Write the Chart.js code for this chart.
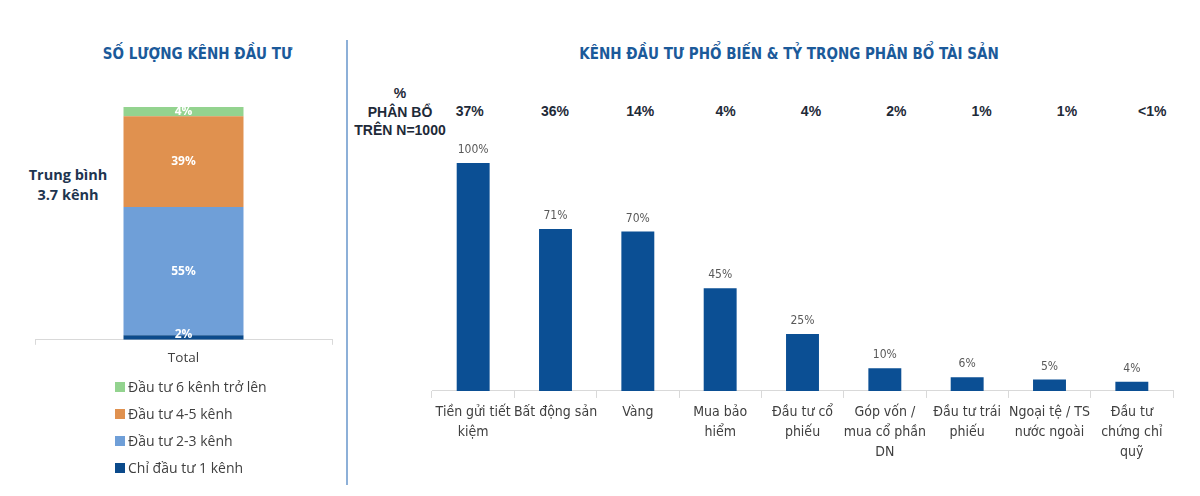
<!DOCTYPE html>
<html lang="vi">
<head>
  <meta charset="UTF-8" />
  <title>Kênh đầu tư</title>
  <script src="https://cdn.jsdelivr.net/npm/chart.js"></script>
  <style>
    body { margin: 0; width: 1200px; height: 496px; background: #fff; position: relative; overflow: hidden;
           font-family: "DejaVu Sans Condensed", "Liberation Sans", sans-serif; }
    .title { position: absolute; top: 45px; font-weight: bold; font-size: 15px; color: #1B5A9A; text-align: center; white-space: nowrap; }
    #leftWrap { position: absolute; left: 0; top: 80px; width: 345px; height: 294px; }
    #rightWrap { position: absolute; left: 350px; top: 80px; width: 850px; height: 400px; }
    .divider { position: absolute; left: 346px; top: 40px; width: 2px; height: 445px; background: #8DB0D8; }
    .avg { position: absolute; left: 18px; top: 165px; width: 100px; text-align: center; font-family: "Open Sans", sans-serif;
           font-weight: bold; font-size: 14.5px; line-height: 20px; color: #1E3550; }
    #legend { position: absolute; left: 115px; top: 373px; font-family: "Open Sans", sans-serif; font-size: 14px; color: #404040; }
    #legend div { height: 27px; display: flex; align-items: center; white-space: nowrap; }
    #legend span { display: inline-block; width: 10px; height: 10px; margin-right: 3px; }
    .hdr { position: absolute; font-family: "Liberation Sans", Arial, sans-serif; font-weight: bold; font-size: 14px; color: #1E2A38; }
    #hdrLabel { left: 350px; top: 84px; width: 100px; text-align: center; line-height: 18.5px; }
    #allocRow { left: 427px; top: 103px; width: 768px; display: flex; }
    #allocRow div { flex: 1; text-align: center; }
  </style>
</head>
<body>
  <div class="title" style="left:0;width:395px;">SỐ LƯỢNG KÊNH ĐẦU TƯ</div>
  <div class="title" style="left:350px;width:878px;">KÊNH ĐẦU TƯ PHỔ BIẾN &amp; TỶ TRỌNG PHÂN BỔ TÀI SẢN</div>
  <div class="divider"></div>
  <div class="avg">Trung bình<br>3.7 kênh</div>
  <div id="leftWrap"><canvas id="leftChart"></canvas></div>
  <div id="legend"></div>
  <div class="hdr" id="hdrLabel">%<br>PHÂN BỔ<br>TRÊN N=1000</div>
  <div class="hdr" id="allocRow"></div>
  <div id="rightWrap"><canvas id="rightChart"></canvas></div>

  <script>
    // left: number of channels (stacked, bottom to top)
    const stackNames = ['Chỉ đầu tư 1 kênh', 'Đầu tư 2-3 kênh', 'Đầu tư 4-5 kênh', 'Đầu tư 6 kênh trở lên'];
    const stackValues = [2, 55, 39, 4];
    const stackColors = ['#0B4A8B', '#6F9FD8', '#E0914F', '#93D38F'];

    // right: popular channels
    const channels = [
      ['Tiền gửi tiết', 'kiệm'], ['Bất động sản'], ['Vàng'], ['Mua bảo', 'hiểm'], ['Đầu tư cổ', 'phiếu'],
      ['Góp vốn /', 'mua cổ phần', 'DN'], ['Đầu tư trái', 'phiếu'], ['Ngoại tệ / TS', 'nước ngoài'], ['Đầu tư', 'chứng chỉ', 'quỹ']
    ];
    const channelValues = [100, 71, 70, 45, 25, 10, 6, 5, 4];
    const allocation = ['37%', '36%', '14%', '4%', '4%', '2%', '1%', '1%', '<1%'];

    // legend (top to bottom = reverse of stack)
    const legend = document.getElementById('legend');
    for (let i = stackNames.length - 1; i >= 0; i--) {
      const d = document.createElement('div');
      d.innerHTML = '<span style="background:' + stackColors[i] + '"></span>' + stackNames[i];
      legend.appendChild(d);
    }
    const row = document.getElementById('allocRow');
    allocation.forEach(a => { const d = document.createElement('div'); d.textContent = a; row.appendChild(d); });

    const valueLabels = {
      id: 'valueLabels',
      afterDatasetsDraw(chart, args, opts) {
        const ctx = chart.ctx;
        ctx.save();
        ctx.font = opts.font;
        ctx.fillStyle = opts.color;
        ctx.textAlign = 'center';
        chart.data.datasets.forEach((ds, di) => {
          chart.getDatasetMeta(di).data.forEach((bar, i) => {
            const v = ds.data[i];
            if (opts.inside) {
              ctx.textBaseline = 'middle';
              let y = (bar.y + bar.base) / 2;
              if (v < 3) y -= 3;
              ctx.fillText(v + '%', bar.x, y);
            } else {
              ctx.textBaseline = 'bottom';
              ctx.fillText(v + '%', bar.x, bar.y - 7);
            }
          });
        });
        ctx.restore();
      }
    };

    Chart.defaults.animation = false;
    Chart.defaults.font.family = '"DejaVu Sans Condensed", sans-serif';

    new Chart(document.getElementById('leftChart'), {
      type: 'bar',
      data: {
        labels: ['Total'],
        datasets: stackNames.map((n, i) => ({
          label: n, data: [stackValues[i]], backgroundColor: stackColors[i],
          barPercentage: 1, categoryPercentage: 0.404
        }))
      },
      options: {
        responsive: true, maintainAspectRatio: false,
        layout: { padding: { left: 35, right: 13, top: 27, bottom: 3 } },
        plugins: {
          legend: { display: false }, tooltip: { enabled: false },
          valueLabels: { inside: true, color: '#fff', font: 'bold 12px "Open Sans", sans-serif' }
        },
        scales: {
          x: {
            stacked: true,
            grid: { offset: true, drawOnChartArea: false, drawTicks: true, tickLength: 5, color: '#D9D9D9' },
            border: { color: '#D9D9D9' },
            ticks: { color: '#404040', font: { family: '"Open Sans", sans-serif', size: 13.5 }, padding: 5 }
          },
          y: { stacked: true, display: false, min: 0, max: 100 }
        }
      },
      plugins: [valueLabels]
    });

    new Chart(document.getElementById('rightChart'), {
      type: 'bar',
      data: {
        labels: channels,
        datasets: [{ data: channelValues, backgroundColor: '#0B4F94', barPercentage: 1, categoryPercentage: 0.4 }]
      },
      options: {
        responsive: true, maintainAspectRatio: false,
        layout: { padding: { left: 82, right: 27, top: 83, bottom: 14 } },
        plugins: {
          legend: { display: false }, tooltip: { enabled: false },
          valueLabels: { inside: false, color: '#595959', font: '12px "DejaVu Sans Condensed", sans-serif' }
        },
        scales: {
          x: {
            grid: { offset: true, drawOnChartArea: false, drawTicks: true, tickLength: 7, color: '#D9D9D9' },
            border: { color: '#D9D9D9' },
            ticks: { color: '#404040', font: { size: 14, lineHeight: 1.43 }, padding: 4, maxRotation: 0, autoSkip: false }
          },
          y: { display: false, min: 0, max: 100 }
        }
      },
      plugins: [valueLabels]
    });
  </script>
</body>
</html>
